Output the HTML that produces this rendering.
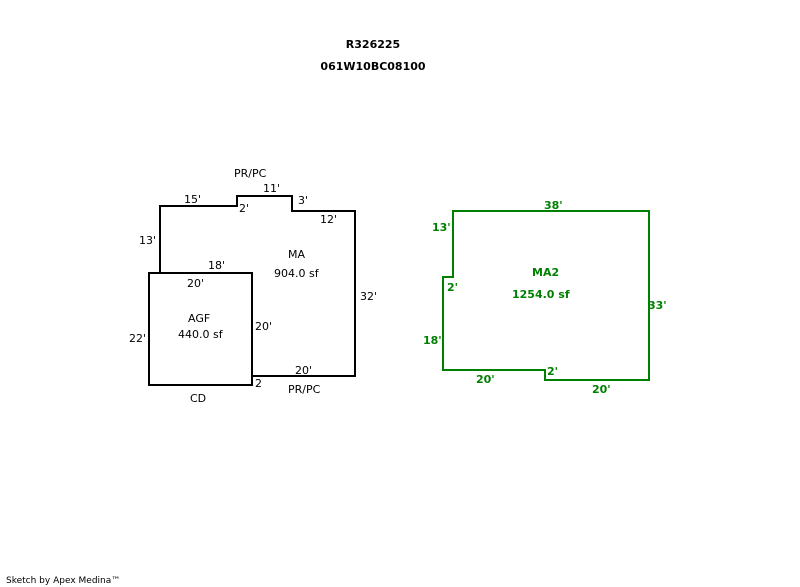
<!DOCTYPE html>
<html><head><meta charset="utf-8"><style>
html,body{margin:0;padding:0;background:#fff;}
svg{display:block;}
text{font-family:"DejaVu Sans","Liberation Sans",sans-serif;font-size:11px;}
.b{font-weight:bold;}
.g{fill:#008000;font-weight:bold;}
</style></head><body>
<svg width="800" height="587" viewBox="0 0 800 587" xmlns="http://www.w3.org/2000/svg">
<text x="373" y="48" text-anchor="middle" class="b">R326225</text>
<text x="373" y="70" text-anchor="middle" class="b">061W10BC08100</text>

<polyline points="160,272 160,206 237,206 237,196 292,196 292,211 355,211 355,376 252,376" fill="none" stroke="#000" stroke-width="2"/>
<rect x="149" y="273" width="103" height="112" fill="none" stroke="#000" stroke-width="2"/>

<text x="234" y="177">PR/PC</text>
<text x="263" y="192">11'</text>
<text x="184" y="203">15'</text>
<text x="239" y="212">2'</text>
<text x="298" y="204">3'</text>
<text x="320" y="223">12'</text>
<text x="139" y="244">13'</text>
<text x="288" y="258">MA</text>
<text x="274" y="277">904.0 sf</text>
<text x="208" y="269">18'</text>
<text x="187" y="287">20'</text>
<text x="360" y="300">32'</text>
<text x="188" y="322">AGF</text>
<text x="178" y="338">440.0 sf</text>
<text x="255" y="330">20'</text>
<text x="129" y="342">22'</text>
<text x="295" y="374">20'</text>
<text x="255" y="387">2</text>
<text x="288" y="393">PR/PC</text>
<text x="190" y="402">CD</text>

<polygon points="453,211 649,211 649,380 545,380 545,370 443,370 443,277 453,277" fill="none" stroke="#008000" stroke-width="2"/>
<text x="544" y="209" class="g">38'</text>
<text x="432" y="231" class="g">13'</text>
<text x="532" y="276" class="g">MA2</text>
<text x="512" y="298" class="g">1254.0 sf</text>
<text x="447" y="291" class="g">2'</text>
<text x="648" y="309" class="g">33'</text>
<text x="423" y="344" class="g">18'</text>
<text x="547" y="375" class="g">2'</text>
<text x="476" y="383" class="g">20'</text>
<text x="592" y="393" class="g">20'</text>

<text x="6" y="583" style="font-size:9px">Sketch by Apex Medina™</text>
</svg>
</body></html>
